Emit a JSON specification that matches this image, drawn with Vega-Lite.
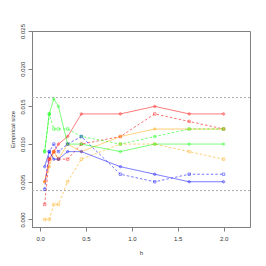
{
  "$schema": "https://vega.github.io/schema/vega-lite/v6.json",
  "width": 218,
  "height": 196,
  "autosize": {"type": "none"},
  "padding": {"left": 32, "top": 31, "right": 16, "bottom": 39},
  "background": "white",
  "config": {
    "font": "Liberation Sans",
    "view": {"stroke": "#808080", "strokeWidth": 1},
    "axis": {
      "grid": false,
      "domainColor": "#808080",
      "tickColor": "#808080",
      "tickSize": 4,
      "labelFontSize": 6,
      "labelColor": "#333",
      "titleFontSize": 6,
      "titleFontWeight": "normal",
      "titleColor": "#333"
    },
    "axisY": {
      "values": [0, 0.005, 0.01, 0.015, 0.02, 0.025],
      "format": ".3f",
      "labelAngle": 270,
      "labelAlign": "center",
      "labelBaseline": "bottom",
      "labelPadding": 3,
      "titlePadding": 4
    },
    "axisX": {
      "values": [0, 0.5, 1, 1.5, 2],
      "format": ".1f",
      "labelPadding": 4,
      "titlePadding": 8
    }
  },
  "datasets": {
    "ref": [{"y": 0.00383}, {"y": 0.01617}],
    "size": [
      {"h": 0.05, "size": 0.005, "col": "red", "lty": "solid"},
      {"h": 0.1, "size": 0.008, "col": "red", "lty": "solid"},
      {"h": 0.15, "size": 0.009, "col": "red", "lty": "solid"},
      {"h": 0.2, "size": 0.010, "col": "red", "lty": "solid"},
      {"h": 0.3, "size": 0.011, "col": "red", "lty": "solid"},
      {"h": 0.45, "size": 0.014, "col": "red", "lty": "solid"},
      {"h": 0.875, "size": 0.014, "col": "red", "lty": "solid"},
      {"h": 1.25, "size": 0.015, "col": "red", "lty": "solid"},
      {"h": 1.625, "size": 0.014, "col": "red", "lty": "solid"},
      {"h": 2.0, "size": 0.014, "col": "red", "lty": "solid"},
      {"h": 0.05, "size": 0.002, "col": "red", "lty": "dashed"},
      {"h": 0.1, "size": 0.008, "col": "red", "lty": "dashed"},
      {"h": 0.15, "size": 0.009, "col": "red", "lty": "dashed"},
      {"h": 0.2, "size": 0.008, "col": "red", "lty": "dashed"},
      {"h": 0.3, "size": 0.008, "col": "red", "lty": "dashed"},
      {"h": 0.45, "size": 0.010, "col": "red", "lty": "dashed"},
      {"h": 0.875, "size": 0.011, "col": "red", "lty": "dashed"},
      {"h": 1.25, "size": 0.014, "col": "red", "lty": "dashed"},
      {"h": 1.625, "size": 0.013, "col": "red", "lty": "dashed"},
      {"h": 2.0, "size": 0.012, "col": "red", "lty": "dashed"},
      {"h": 0.05, "size": 0.005, "col": "orange", "lty": "solid"},
      {"h": 0.1, "size": 0.007, "col": "orange", "lty": "solid"},
      {"h": 0.15, "size": 0.009, "col": "orange", "lty": "solid"},
      {"h": 0.2, "size": 0.008, "col": "orange", "lty": "solid"},
      {"h": 0.3, "size": 0.010, "col": "orange", "lty": "solid"},
      {"h": 0.45, "size": 0.009, "col": "orange", "lty": "solid"},
      {"h": 0.875, "size": 0.011, "col": "orange", "lty": "solid"},
      {"h": 1.25, "size": 0.012, "col": "orange", "lty": "solid"},
      {"h": 1.625, "size": 0.012, "col": "orange", "lty": "solid"},
      {"h": 2.0, "size": 0.012, "col": "orange", "lty": "solid"},
      {"h": 0.05, "size": 0.000, "col": "orange", "lty": "dashed"},
      {"h": 0.1, "size": 0.000, "col": "orange", "lty": "dashed"},
      {"h": 0.15, "size": 0.002, "col": "orange", "lty": "dashed"},
      {"h": 0.2, "size": 0.002, "col": "orange", "lty": "dashed"},
      {"h": 0.3, "size": 0.005, "col": "orange", "lty": "dashed"},
      {"h": 0.45, "size": 0.008, "col": "orange", "lty": "dashed"},
      {"h": 0.875, "size": 0.010, "col": "orange", "lty": "dashed"},
      {"h": 1.25, "size": 0.010, "col": "orange", "lty": "dashed"},
      {"h": 1.625, "size": 0.009, "col": "orange", "lty": "dashed"},
      {"h": 2.0, "size": 0.008, "col": "orange", "lty": "dashed"},
      {"h": 0.05, "size": 0.009, "col": "green", "lty": "solid"},
      {"h": 0.1, "size": 0.014, "col": "green", "lty": "solid"},
      {"h": 0.15, "size": 0.016, "col": "green", "lty": "solid"},
      {"h": 0.2, "size": 0.015, "col": "green", "lty": "solid"},
      {"h": 0.3, "size": 0.010, "col": "green", "lty": "solid"},
      {"h": 0.45, "size": 0.010, "col": "green", "lty": "solid"},
      {"h": 0.875, "size": 0.009, "col": "green", "lty": "solid"},
      {"h": 1.25, "size": 0.010, "col": "green", "lty": "solid"},
      {"h": 1.625, "size": 0.010, "col": "green", "lty": "solid"},
      {"h": 2.0, "size": 0.010, "col": "green", "lty": "solid"},
      {"h": 0.05, "size": 0.009, "col": "green", "lty": "dashed"},
      {"h": 0.1, "size": 0.014, "col": "green", "lty": "dashed"},
      {"h": 0.15, "size": 0.012, "col": "green", "lty": "dashed"},
      {"h": 0.2, "size": 0.012, "col": "green", "lty": "dashed"},
      {"h": 0.3, "size": 0.012, "col": "green", "lty": "dashed"},
      {"h": 0.45, "size": 0.011, "col": "green", "lty": "dashed"},
      {"h": 0.875, "size": 0.010, "col": "green", "lty": "dashed"},
      {"h": 1.25, "size": 0.011, "col": "green", "lty": "dashed"},
      {"h": 1.625, "size": 0.012, "col": "green", "lty": "dashed"},
      {"h": 2.0, "size": 0.012, "col": "green", "lty": "dashed"},
      {"h": 0.05, "size": 0.007, "col": "blue", "lty": "solid"},
      {"h": 0.1, "size": 0.009, "col": "blue", "lty": "solid"},
      {"h": 0.15, "size": 0.008, "col": "blue", "lty": "solid"},
      {"h": 0.2, "size": 0.008, "col": "blue", "lty": "solid"},
      {"h": 0.3, "size": 0.009, "col": "blue", "lty": "solid"},
      {"h": 0.45, "size": 0.009, "col": "blue", "lty": "solid"},
      {"h": 0.875, "size": 0.007, "col": "blue", "lty": "solid"},
      {"h": 1.25, "size": 0.006, "col": "blue", "lty": "solid"},
      {"h": 1.625, "size": 0.005, "col": "blue", "lty": "solid"},
      {"h": 2.0, "size": 0.005, "col": "blue", "lty": "solid"},
      {"h": 0.05, "size": 0.004, "col": "blue", "lty": "dashed"},
      {"h": 0.1, "size": 0.009, "col": "blue", "lty": "dashed"},
      {"h": 0.15, "size": 0.010, "col": "blue", "lty": "dashed"},
      {"h": 0.2, "size": 0.009, "col": "blue", "lty": "dashed"},
      {"h": 0.3, "size": 0.010, "col": "blue", "lty": "dashed"},
      {"h": 0.45, "size": 0.011, "col": "blue", "lty": "dashed"},
      {"h": 0.875, "size": 0.006, "col": "blue", "lty": "dashed"},
      {"h": 1.25, "size": 0.005, "col": "blue", "lty": "dashed"},
      {"h": 1.625, "size": 0.006, "col": "blue", "lty": "dashed"},
      {"h": 2.0, "size": 0.006, "col": "blue", "lty": "dashed"}
    ]
  },
  "layer": [
    {
      "data": {"name": "ref"},
      "mark": {"type": "rule", "strokeDash": [2, 2], "color": "#aaaaaa", "strokeWidth": 1},
      "encoding": {
        "y": {"field": "y", "type": "quantitative", "title": "Empirical size",
              "scale": {"domain": [-0.001, 0.025], "nice": false, "zero": false}}
      }
    },
    {
      "data": {"name": "size"},
      "mark": {"type": "line", "strokeWidth": 1, "opacity": 0.55},
      "encoding": {
        "x": {"field": "h", "type": "quantitative", "title": "h",
              "scale": {"domain": [-0.088, 2.288], "nice": false, "zero": false}},
        "y": {"field": "size", "type": "quantitative", "title": "Empirical size",
              "scale": {"domain": [-0.001, 0.025], "nice": false, "zero": false}},
        "color": {"field": "col", "type": "nominal", "legend": null,
                  "scale": {"domain": ["red", "orange", "green", "blue"], "range": ["#ff0000", "#ffa500", "#00ff00", "#0000ff"]}},
        "strokeDash": {"field": "lty", "type": "nominal", "legend": null,
                       "scale": {"domain": ["solid", "dashed"], "range": [[1, 0], [2.5, 2]]}}
      }
    },
    {
      "data": {"name": "size"},
      "mark": {"type": "point", "filled": false, "size": 6, "strokeWidth": 0.8, "opacity": 0.55},
      "encoding": {
        "x": {"field": "h", "type": "quantitative", "title": "h",
              "scale": {"domain": [-0.088, 2.288], "nice": false, "zero": false}},
        "y": {"field": "size", "type": "quantitative", "title": "Empirical size",
              "scale": {"domain": [-0.001, 0.025], "nice": false, "zero": false}},
        "color": {"field": "col", "type": "nominal", "legend": null,
                  "scale": {"domain": ["red", "orange", "green", "blue"], "range": ["#ff0000", "#ffa500", "#00ff00", "#0000ff"]}},
        "shape": {"field": "lty", "type": "nominal", "legend": null,
                  "scale": {"domain": ["solid", "dashed"], "range": ["cross", "square"]}}
      }
    }
  ]
}
